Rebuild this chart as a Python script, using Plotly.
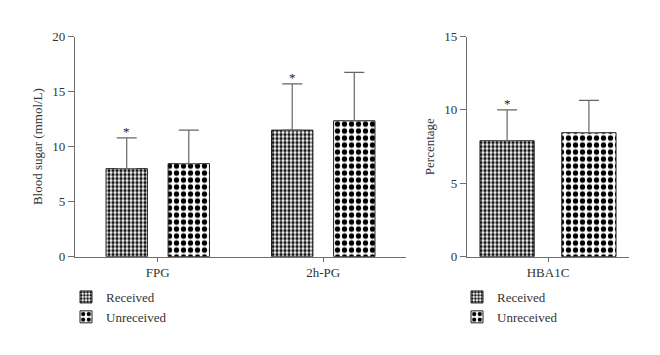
import plotly.graph_objects as go

# ---- data ----
categories_left = ["FPG", "2h-PG"]
categories_right = ["HBA1C"]
groups = ["Received", "Unreceived"]

received_left = [8.0, 11.5]
received_left_sd = [2.8, 4.2]
unreceived_left = [8.45, 12.35]
unreceived_left_sd = [3.05, 4.4]

received_right = [7.9]
received_right_sd = [2.1]
unreceived_right = [8.45]
unreceived_right_sd = [2.2]

sig_left = ["*", "*"]
sig_right = ["*"]

yticks_left = [0, 5, 10, 15, 20]
yticks_right = [0, 5, 10, 15]

# ---- style ----
FONT = "Liberation Serif"
AXC = "#6e6e6e"
TXT = "#333333"
pat_recv = dict(shape=".", size=4, solidity=0.55, fgcolor="#111111", bgcolor="white")
pat_unrecv = dict(shape=".", size=7, solidity=0.45, fgcolor="black", bgcolor="white")
err_style = dict(type="data", symmetric=False, color="#666666", thickness=1.2, width=10)

W_L, OFF_L = 0.25, [-0.3125, 0.0625]
W_R, OFF_R = 0.335, [-0.42, 0.085]

fig = go.Figure()

def add_bar(x, y, sd, name, pat, xa, ya, width, offset, legend):
    fig.add_trace(go.Bar(
        x=x, y=y, name=name, width=width, offset=offset,
        marker=dict(color="white", pattern=pat, line=dict(color="#222222", width=1)),
        error_y=dict(array=sd, arrayminus=[0] * len(sd), **err_style),
        xaxis=xa, yaxis=ya, legend=legend, hoverinfo="skip",
    ))

add_bar(categories_left, received_left, received_left_sd, groups[0], pat_recv, "x", "y", W_L, OFF_L[0], "legend")
add_bar(categories_left, unreceived_left, unreceived_left_sd, groups[1], pat_unrecv, "x", "y", W_L, OFF_L[1], "legend")
add_bar(categories_right, received_right, received_right_sd, groups[0], pat_recv, "x2", "y2", W_R, OFF_R[0], "legend2")
add_bar(categories_right, unreceived_right, unreceived_right_sd, groups[1], pat_unrecv, "x2", "y2", W_R, OFF_R[1], "legend2")

# significance asterisks above received bars
ann = []
for i, c in enumerate(categories_left):
    if sig_left[i]:
        ann.append(dict(x=i + OFF_L[0] + W_L / 2, y=received_left[i] + received_left_sd[i],
                        xref="x", yref="y", text=sig_left[i], showarrow=False,
                        yshift=6, font=dict(family=FONT, size=13, color="#222222")))
for i, c in enumerate(categories_right):
    if sig_right[i]:
        ann.append(dict(x=i + OFF_R[0] + W_R / 2, y=received_right[i] + received_right_sd[i],
                        xref="x2", yref="y2", text=sig_right[i], showarrow=False,
                        yshift=6, font=dict(family=FONT, size=13, color="#222222")))

axis_common = dict(showline=True, linecolor=AXC, linewidth=1.2, ticks="outside",
                   tickcolor=AXC, tickwidth=1, showgrid=False, zeroline=False, automargin=False,
                   tickfont=dict(family=FONT, size=13, color=TXT))

ydom = [0.277, 0.897]
fig.update_layout(
    template="none",
    width=660, height=355, margin=dict(l=0, r=0, t=0, b=0, pad=0),
    paper_bgcolor="white", plot_bgcolor="white",
    barmode="overlay",
    font=dict(family=FONT, size=13, color=TXT),
    xaxis=dict(domain=[75 / 660, 406 / 660], range=[-0.5, 1.5], ticklen=4, anchor="y", **axis_common),
    yaxis=dict(domain=ydom, range=[0, 20], tickvals=yticks_left, ticklen=6, anchor="x",
               title=dict(text="Blood sugar (mmol/L)", standoff=6,
                          font=dict(family=FONT, size=13, color=TXT)), **axis_common),
    xaxis2=dict(domain=[467 / 660, 629 / 660], range=[-0.5, 0.5], ticklen=4, anchor="y2", **axis_common),
    yaxis2=dict(domain=ydom, range=[0, 15], tickvals=yticks_right, ticklen=6, anchor="x2",
                title=dict(text="Percentage", standoff=6,
                           font=dict(family=FONT, size=13, color=TXT)), **axis_common),
    annotations=ann,
    legend=dict(x=66 / 660, y=(355 - 282) / 355, xanchor="left", yanchor="top",
                font=dict(family=FONT, size=13, color=TXT), tracegroupgap=0,
                bgcolor="rgba(0,0,0,0)", borderwidth=0),
    legend2=dict(x=457 / 660, y=(355 - 282) / 355, xanchor="left", yanchor="top",
                 font=dict(family=FONT, size=13, color=TXT), tracegroupgap=0,
                 bgcolor="rgba(0,0,0,0)", borderwidth=0),
    showlegend=True,
    hovermode=False,
)

fig.write_html("out.html", config={"displayModeBar": False},
               post_script="document.body.style.margin='0';")
